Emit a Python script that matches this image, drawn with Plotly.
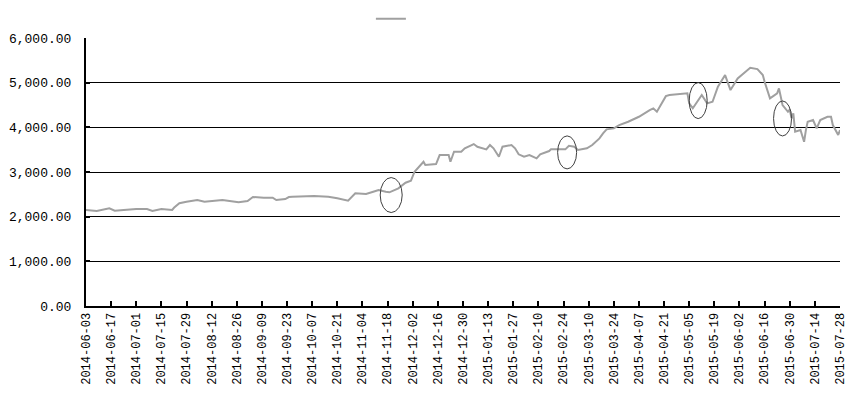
import plotly.graph_objects as go

dates = [
    "2014-06-03", "2014-06-09", "2014-06-16", "2014-06-19", "2014-06-24", "2014-07-01",
    "2014-07-07", "2014-07-10", "2014-07-15", "2014-07-21", "2014-07-22", "2014-07-25",
    "2014-07-29", "2014-08-04", "2014-08-08", "2014-08-13", "2014-08-18", "2014-08-22",
    "2014-08-27", "2014-09-01", "2014-09-04", "2014-09-10", "2014-09-15", "2014-09-17",
    "2014-09-22", "2014-09-24", "2014-09-26", "2014-10-08", "2014-10-16", "2014-10-21",
    "2014-10-27", "2014-10-31", "2014-11-06", "2014-11-10", "2014-11-13", "2014-11-17",
    "2014-11-19", "2014-11-24", "2014-11-28", "2014-12-01", "2014-12-03", "2014-12-08",
    "2014-12-09", "2014-12-15", "2014-12-17", "2014-12-22", "2014-12-23", "2014-12-25",
    "2014-12-29", "2014-12-31", "2015-01-05", "2015-01-07", "2015-01-12", "2015-01-14",
    "2015-01-16", "2015-01-19", "2015-01-21", "2015-01-26", "2015-01-28", "2015-01-30",
    "2015-02-02", "2015-02-05", "2015-02-09", "2015-02-11", "2015-02-16", "2015-02-17",
    "2015-02-25", "2015-02-27", "2015-03-02", "2015-03-04", "2015-03-09", "2015-03-12",
    "2015-03-16", "2015-03-18", "2015-03-20", "2015-03-24", "2015-03-27", "2015-04-01",
    "2015-04-07", "2015-04-13", "2015-04-15", "2015-04-17", "2015-04-20", "2015-04-22",
    "2015-04-24", "2015-04-27", "2015-05-04", "2015-05-05", "2015-05-07", "2015-05-12",
    "2015-05-15", "2015-05-18", "2015-05-21", "2015-05-25", "2015-05-28", "2015-06-01",
    "2015-06-03", "2015-06-08", "2015-06-12", "2015-06-15", "2015-06-16", "2015-06-19",
    "2015-06-23", "2015-06-24", "2015-06-26", "2015-06-29", "2015-06-30", "2015-07-01",
    "2015-07-02", "2015-07-03", "2015-07-06", "2015-07-07", "2015-07-08", "2015-07-09",
    "2015-07-10", "2015-07-13", "2015-07-15", "2015-07-17", "2015-07-21", "2015-07-23",
    "2015-07-24", "2015-07-27", "2015-07-28",
]
values = [
    2150, 2127, 2187, 2134, 2150, 2172,
    2172, 2127, 2172, 2150, 2200, 2300,
    2335, 2373, 2335, 2351, 2373, 2351,
    2321, 2351, 2440, 2425, 2425, 2373,
    2396, 2440, 2447, 2463, 2447, 2411,
    2358, 2523, 2507, 2559, 2597, 2559,
    2546, 2635, 2761, 2806, 3007, 3231,
    3157, 3179, 3381, 3381, 3231, 3455,
    3455, 3531, 3627, 3567, 3508, 3605,
    3531, 3343, 3567, 3605, 3531, 3397,
    3343, 3381, 3307, 3397, 3470, 3508,
    3508, 3589, 3567, 3493, 3531, 3605,
    3754, 3866, 3956, 3978, 4052, 4127,
    4238, 4388, 4426, 4350, 4574, 4700,
    4724, 4740, 4762, 4538, 4426, 4724,
    4538, 4574, 4910, 5172, 4836, 5098,
    5172, 5336, 5306, 5172, 5022, 4650,
    4762, 4874, 4500, 4350, 4400, 4202,
    4314, 3903, 3940, 3829, 3679, 3940,
    4127, 4165, 3978, 4165, 4238, 4238,
    4052, 3829, 3940,
]

tick_labels = [
    "2014-06-03", "2014-06-17", "2014-07-01", "2014-07-15", "2014-07-29", "2014-08-12",
    "2014-08-26", "2014-09-09", "2014-09-23", "2014-10-07", "2014-10-21", "2014-11-04",
    "2014-11-18", "2014-12-02", "2014-12-16", "2014-12-30", "2015-01-13", "2015-01-27",
    "2015-02-10", "2015-02-24", "2015-03-10", "2015-03-24", "2015-04-07", "2015-04-21",
    "2015-05-05", "2015-05-19", "2015-06-02", "2015-06-16", "2015-06-30", "2015-07-14",
    "2015-07-28",
]
y_ticks = [0, 1000, 2000, 3000, 4000, 5000, 6000]

# highlighted points (ellipses)
mark_dates = ["2014-11-20", "2015-02-26", "2015-05-10", "2015-06-26"]
mark_values = [2485, 3440, 4600, 4200]
mark_sizes = [(22, 35), (19, 33), (18, 36), (18, 35)]

fig = go.Figure()
fig.add_trace(go.Scatter(
    x=dates, y=values, mode="lines", name=" ",
    line=dict(color="#A0A0A0", width=2),
    showlegend=True,
))

for d, v, (w, h) in zip(mark_dates, mark_values, mark_sizes):
    fig.add_shape(
        type="circle", xref="x", yref="y",
        xsizemode="pixel", ysizemode="pixel",
        xanchor=d, yanchor=v,
        x0=-w / 2, x1=w / 2, y0=-h / 2, y1=h / 2,
        line=dict(color="#404040", width=1),
    )

font = "Liberation Mono"
fig.update_layout(
    width=856, height=394,
    margin=dict(l=78, r=24, t=30, b=96, autoexpand=False),
    paper_bgcolor="white", plot_bgcolor="white",
    font=dict(family=font, size=13, color="black"),
    showlegend=True,
    legend=dict(orientation="h", x=0.413, y=1.072, xanchor="center", yanchor="middle",
                font=dict(size=12), bgcolor="rgba(0,0,0,0)"),
    xaxis=dict(
        type="date", automargin=False,
        range=["2014-06-03", "2015-07-28"],
        tickmode="array", tickvals=tick_labels, ticktext=tick_labels,
        tickangle=-90,
        showgrid=False,
        showline=True, linecolor="black", linewidth=2,
        ticks="inside", ticklen=5, tickwidth=2, tickcolor="black",
        tickfont=dict(family=font, size=12),
    ),
    yaxis=dict(
        range=[0, 6002], automargin=False,
        tickmode="array", tickvals=y_ticks,
        tickformat=",.2f",
        showgrid=True, gridcolor="black", gridwidth=1,
        showline=True, linecolor="black", linewidth=2,
        ticks="inside", ticklen=4, tickwidth=2, tickcolor="black",
        zeroline=False,
        ticklabelstandoff=10,
        tickfont=dict(family=font, size=13),
    ),
)

fig.write_html("out.html")
